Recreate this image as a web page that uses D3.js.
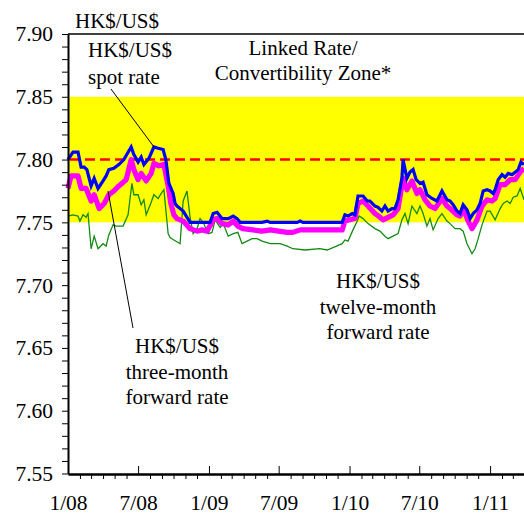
<!DOCTYPE html>
<html>
<head>
<meta charset="utf-8">
<script src="https://cdn.jsdelivr.net/npm/d3@7"></script>
<style>
  body { margin: 0; background: #fff; }
  svg { display: block; }
  svg text { font-family: "Liberation Serif", "Times New Roman", "DejaVu Serif", serif; }
</style>
</head>
<body>
<svg id="chart" width="524" height="516"></svg>
<script>
'use strict';

// HK$/US$ spot rate
const spotDates = ['2008-01-01', '2008-01-14', '2008-01-27', '2008-02-04', '2008-02-12', '2008-02-19', '2008-03-01', '2008-03-09', '2008-03-19', '2008-04-01', '2008-04-09', '2008-04-16', '2008-04-29', '2008-05-12', '2008-05-25', '2008-06-13', '2008-06-20', '2008-07-01', '2008-07-09', '2008-07-16', '2008-07-29', '2008-08-11', '2008-08-22', '2008-09-04', '2008-09-11', '2008-09-19', '2008-09-30', '2008-10-05', '2008-10-10', '2008-10-26', '2008-11-13', '2009-01-04', '2009-01-12', '2009-01-22', '2009-02-04', '2009-02-20', '2009-03-05', '2009-03-15', '2009-03-23', '2009-05-19', '2009-06-01', '2009-06-09', '2009-08-18', '2009-08-26', '2009-09-02', '2009-12-13', '2009-12-20', '2009-12-28', '2010-01-08', '2010-01-15', '2010-01-23', '2010-02-05', '2010-02-16', '2010-02-23', '2010-03-08', '2010-03-16', '2010-03-26', '2010-04-03', '2010-04-11', '2010-04-21', '2010-04-29', '2010-05-07', '2010-05-17', '2010-05-20', '2010-05-30', '2010-06-07', '2010-06-15', '2010-06-23', '2010-07-03', '2010-07-11', '2010-07-21', '2010-08-03', '2010-08-16', '2010-08-29', '2010-09-11', '2010-09-19', '2010-09-27', '2010-10-07', '2010-10-15', '2010-10-23', '2010-11-02', '2010-11-10', '2010-11-18', '2010-11-28', '2010-12-06', '2010-12-14', '2010-12-24', '2011-01-01', '2011-01-09', '2011-01-14', '2011-01-22', '2011-02-01', '2011-02-09', '2011-02-17', '2011-02-27', '2011-03-07', '2011-03-15', '2011-03-22', '2011-03-30'];
const spotRates = [7.800, 7.806, 7.806, 7.794, 7.794, 7.792, 7.779, 7.785, 7.777, 7.783, 7.787, 7.792, 7.793, 7.796, 7.800, 7.810, 7.804, 7.798, 7.802, 7.796, 7.801, 7.810, 7.809, 7.808, 7.800, 7.781, 7.773, 7.765, 7.763, 7.759, 7.750, 7.750, 7.757, 7.758, 7.753, 7.753, 7.755, 7.753, 7.750, 7.750, 7.751, 7.750, 7.750, 7.751, 7.750, 7.750, 7.756, 7.755, 7.757, 7.756, 7.771, 7.771, 7.767, 7.767, 7.763, 7.762, 7.759, 7.763, 7.759, 7.761, 7.761, 7.768, 7.785, 7.800, 7.785, 7.790, 7.792, 7.784, 7.781, 7.782, 7.772, 7.769, 7.767, 7.775, 7.768, 7.767, 7.764, 7.759, 7.757, 7.764, 7.760, 7.753, 7.757, 7.760, 7.765, 7.775, 7.776, 7.775, 7.773, 7.776, 7.784, 7.788, 7.786, 7.789, 7.788, 7.790, 7.792, 7.798, 7.796];

// HK$/US$ three-month forward rate
const threeMonthDates = ['2008-01-01', '2008-01-09', '2008-01-27', '2008-02-04', '2008-02-17', '2008-03-01', '2008-03-09', '2008-03-22', '2008-04-04', '2008-04-16', '2008-04-29', '2008-05-12', '2008-05-31', '2008-06-13', '2008-06-20', '2008-07-01', '2008-07-09', '2008-07-22', '2008-08-04', '2008-08-11', '2008-08-24', '2008-09-06', '2008-09-17', '2008-09-24', '2008-10-02', '2008-10-10', '2008-10-26', '2008-11-13', '2008-12-01', '2008-12-14', '2008-12-27', '2009-01-12', '2009-01-22', '2009-02-04', '2009-02-20', '2009-03-05', '2009-03-17', '2009-03-30', '2009-04-25', '2009-05-19', '2009-06-09', '2009-07-23', '2009-08-07', '2009-08-26', '2009-12-13', '2009-12-20', '2010-01-02', '2010-01-15', '2010-01-23', '2010-02-05', '2010-02-18', '2010-03-08', '2010-03-13', '2010-03-29', '2010-04-11', '2010-04-24', '2010-05-07', '2010-05-20', '2010-05-30', '2010-06-12', '2010-06-25', '2010-07-03', '2010-07-16', '2010-07-29', '2010-08-11', '2010-08-29', '2010-09-11', '2010-09-19', '2010-10-07', '2010-10-15', '2010-10-23', '2010-11-05', '2010-11-15', '2010-11-28', '2010-12-11', '2010-12-24', '2011-01-06', '2011-01-14', '2011-01-27', '2011-02-09', '2011-02-22', '2011-03-07', '2011-03-20', '2011-03-30'];
const threeMonthRates = [7.777, 7.787, 7.787, 7.777, 7.777, 7.767, 7.772, 7.761, 7.765, 7.772, 7.775, 7.779, 7.784, 7.800, 7.792, 7.784, 7.789, 7.783, 7.789, 7.797, 7.795, 7.796, 7.779, 7.765, 7.756, 7.753, 7.751, 7.745, 7.743, 7.744, 7.743, 7.752, 7.753, 7.749, 7.748, 7.751, 7.747, 7.745, 7.744, 7.743, 7.744, 7.742, 7.742, 7.744, 7.744, 7.751, 7.752, 7.753, 7.765, 7.767, 7.763, 7.757, 7.756, 7.752, 7.754, 7.756, 7.761, 7.785, 7.776, 7.783, 7.773, 7.776, 7.768, 7.763, 7.761, 7.769, 7.763, 7.761, 7.756, 7.755, 7.761, 7.751, 7.745, 7.752, 7.763, 7.768, 7.767, 7.769, 7.780, 7.780, 7.784, 7.784, 7.790, 7.793];

// HK$/US$ twelve-month forward rate
const twelveMonthDates = ['2008-01-01', '2008-01-14', '2008-01-27', '2008-02-01', '2008-02-09', '2008-02-17', '2008-02-22', '2008-03-01', '2008-03-09', '2008-03-19', '2008-04-01', '2008-04-09', '2008-04-16', '2008-04-27', '2008-05-05', '2008-05-23', '2008-06-05', '2008-06-15', '2008-06-20', '2008-07-01', '2008-07-09', '2008-07-16', '2008-07-22', '2008-08-04', '2008-08-11', '2008-08-22', '2008-08-30', '2008-09-06', '2008-09-17', '2008-09-22', '2008-10-02', '2008-10-18', '2008-10-26', '2008-11-05', '2008-11-13', '2008-11-21', '2008-12-01', '2008-12-09', '2008-12-17', '2008-12-30', '2009-01-09', '2009-01-17', '2009-01-30', '2009-02-07', '2009-02-20', '2009-03-05', '2009-03-17', '2009-03-28', '2009-04-10', '2009-04-23', '2009-05-06', '2009-05-19', '2009-06-09', '2009-07-05', '2009-07-23', '2009-08-07', '2009-09-07', '2009-10-16', '2009-11-04', '2009-12-13', '2009-12-20', '2009-12-28', '2010-01-10', '2010-01-21', '2010-01-26', '2010-02-05', '2010-02-18', '2010-03-08', '2010-03-21', '2010-04-03', '2010-04-11', '2010-04-24', '2010-05-07', '2010-05-17', '2010-05-25', '2010-06-02', '2010-06-12', '2010-06-25', '2010-07-03', '2010-07-11', '2010-07-21', '2010-07-29', '2010-08-06', '2010-08-19', '2010-08-29', '2010-09-11', '2010-09-19', '2010-10-02', '2010-10-15', '2010-10-23', '2010-11-02', '2010-11-15', '2010-11-23', '2010-12-01', '2010-12-11', '2010-12-24', '2011-01-01', '2011-01-14', '2011-01-27', '2011-02-04', '2011-02-14', '2011-02-22', '2011-03-02', '2011-03-12', '2011-03-20', '2011-03-30'];
const twelveMonthRates = [7.755, 7.756, 7.755, 7.751, 7.756, 7.754, 7.757, 7.729, 7.739, 7.729, 7.733, 7.731, 7.740, 7.748, 7.747, 7.747, 7.756, 7.781, 7.772, 7.772, 7.764, 7.768, 7.756, 7.766, 7.772, 7.769, 7.773, 7.776, 7.741, 7.738, 7.736, 7.733, 7.767, 7.775, 7.754, 7.741, 7.745, 7.753, 7.750, 7.741, 7.742, 7.752, 7.746, 7.749, 7.739, 7.741, 7.742, 7.733, 7.735, 7.737, 7.737, 7.735, 7.733, 7.733, 7.731, 7.729, 7.728, 7.729, 7.728, 7.733, 7.736, 7.735, 7.744, 7.751, 7.755, 7.753, 7.749, 7.745, 7.743, 7.739, 7.737, 7.739, 7.741, 7.752, 7.757, 7.749, 7.763, 7.757, 7.763, 7.757, 7.747, 7.753, 7.744, 7.753, 7.757, 7.751, 7.749, 7.745, 7.745, 7.743, 7.733, 7.725, 7.729, 7.737, 7.748, 7.759, 7.759, 7.752, 7.761, 7.765, 7.767, 7.765, 7.770, 7.771, 7.777, 7.768];

// Linked Rate / Convertibility Zone
const zoneBounds = [7.75, 7.85];
const linkedRate = 7.80;

const yTicks = d3.range(0, 36).map(i => +(7.55 + i * 0.01).toFixed(2));
const xMajorTicks = ['2008-01-01', '2008-07-01', '2009-01-01', '2009-07-01', '2010-01-01', '2010-07-01', '2011-01-01'];
const xTickLabels = ['1/08', '7/08', '1/09', '7/09', '1/10', '7/10', '1/11'];

const parse = d3.utcParse('%Y-%m-%d');
const svg = d3.select('#chart');

const margin = { left: 68, right: 0, top: 34, bottom: 42 };
const width = 524;
const height = 516;

const x = d3.scaleUtc()
  .domain([parse('2008-01-01'), parse('2011-03-30')])
  .range([margin.left, width - margin.right]);

const y = d3.scaleLinear()
  .domain([7.55, 7.90])
  .range([height - margin.bottom - 0.5, margin.top]);

function toPoints(dates, values) {
  return dates.map((d, i) => ({ date: parse(d), value: values[i] }));
}

const line = d3.line()
  .x(d => x(d.date))
  .y(d => y(d.value));

// yellow zone
svg.append('rect')
  .attr('x', x.range()[0])
  .attr('y', y(zoneBounds[1]))
  .attr('width', x.range()[1] - x.range()[0])
  .attr('height', y(zoneBounds[0]) - y(zoneBounds[1]))
  .attr('fill', '#ffff00');

// linked rate dashed line
svg.append('line')
  .attr('x1', x.range()[0] + 2)
  .attr('x2', x.range()[1])
  .attr('y1', y(linkedRate))
  .attr('y2', y(linkedRate))
  .attr('stroke', '#ff0000')
  .attr('stroke-width', 2.5)
  .attr('stroke-dasharray', '10,5');

// series
svg.append('path')
  .datum(toPoints(twelveMonthDates, twelveMonthRates))
  .attr('d', line)
  .attr('fill', 'none')
  .attr('stroke', '#138a13')
  .attr('stroke-width', 1.3);

svg.append('path')
  .datum(toPoints(threeMonthDates, threeMonthRates))
  .attr('d', line)
  .attr('fill', 'none')
  .attr('stroke', '#ff00ff')
  .attr('stroke-width', 5.2)
  .attr('stroke-linejoin', 'round');

svg.append('path')
  .datum(toPoints(spotDates, spotRates))
  .attr('d', line)
  .attr('fill', 'none')
  .attr('stroke', '#0000ff')
  .attr('stroke-width', 3.2);

// top frame line
svg.append('line')
  .attr('x1', x.range()[0])
  .attr('x2', x.range()[1])
  .attr('y1', y(7.90))
  .attr('y2', y(7.90))
  .attr('stroke', '#000')
  .attr('stroke-width', 1.5);

// y axis
const yAxis = svg.append('g')
  .attr('transform', `translate(${margin.left},0)`)
  .call(d3.axisLeft(y)
    .tickValues(yTicks)
    .tickSize(6)
    .tickSizeOuter(0)
    .tickPadding(9)
    .tickFormat((d, i) => (i % 5 === 0 ? d3.format('.2f')(d) : '')));

// x axis: monthly minor ticks pointing down, half-year major ticks pointing up
const majorSet = new Set(xMajorTicks);
const monthTicks = d3.utcMonth.range(parse('2008-01-01'), parse('2011-04-01'))
  .filter(d => !majorSet.has(d3.utcFormat('%Y-%m-%d')(d)));

const xMinor = svg.append('g')
  .attr('transform', `translate(0,${height - margin.bottom})`)
  .call(d3.axisBottom(x)
    .tickValues(monthTicks)
    .tickSize(5)
    .tickSizeOuter(0)
    .tickFormat(''));

const xMajor = svg.append('g')
  .attr('transform', `translate(0,${height - margin.bottom})`)
  .call(d3.axisBottom(x)
    .tickValues(xMajorTicks.map(parse))
    .tickSizeInner(-8)
    .tickSizeOuter(0)
    .tickPadding(21)
    .tickFormat((d, i) => xTickLabels[i]));

[yAxis, xMinor, xMajor].forEach(g => {
  g.attr('font-family', null);
  g.selectAll('path.domain').attr('stroke', '#000').attr('stroke-width', 2);
  g.selectAll('.tick line').attr('stroke', '#000').attr('stroke-width', 1);
  g.selectAll('text')
    .attr('fill', '#000')
    .style('font-size', '21.5px');
});

// annotations
function label(lines, px, py, anchor, step) {
  const t = svg.append('text')
    .attr('text-anchor', anchor)
    .style('font-size', '21px')
    .attr('fill', '#000');
  lines.forEach((s, i) => {
    t.append('tspan').attr('x', px).attr('y', py + i * step).text(s);
  });
}

label(['HK$/US$'], 75, 28, 'start', 0);
label(['HK$/US$', 'spot rate'], 88, 57, 'start', 27);
label(['Linked Rate/', 'Convertibility Zone*'], 303, 55, 'middle', 25);
label(['HK$/US$', 'twelve-month', 'forward rate'], 378, 288, 'middle', 25.5);
label(['HK$/US$', 'three-month', 'forward rate'], 177, 353, 'middle', 25.5);

// leader lines
svg.append('line')
  .attr('x1', 111).attr('y1', 89)
  .attr('x2', 154).attr('y2', 147)
  .attr('stroke', '#000').attr('stroke-width', 1);

svg.append('line')
  .attr('x1', 108).attr('y1', 191)
  .attr('x2', 133).attr('y2', 328)
  .attr('stroke', '#000').attr('stroke-width', 1);
</script>
</body>
</html>
